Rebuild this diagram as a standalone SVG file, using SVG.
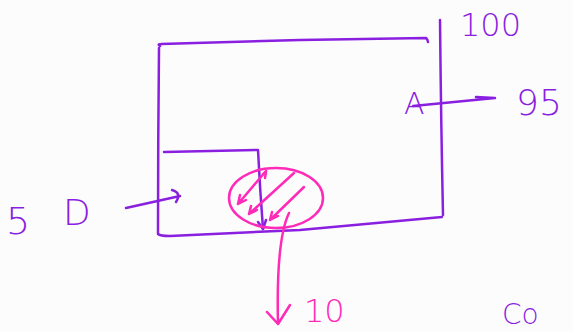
<svg xmlns="http://www.w3.org/2000/svg" width="573" height="332" viewBox="0 0 573 332">
<defs>
<style>
.p{fill:none;stroke:#8a1fe0;stroke-width:2.5;stroke-linecap:round;stroke-linejoin:round}
.m{fill:none;stroke:#ff2bb8;stroke-width:2.5;stroke-linecap:round;stroke-linejoin:round}
.tp{fill:#8a1fe0;font-family:"DejaVu Sans",sans-serif;font-weight:200}
.tm{fill:#ff2bb8;font-family:"DejaVu Sans",sans-serif;font-weight:200}
</style>
</defs>
<rect width="573" height="332" fill="#fcfcfd"/>
<g id="tank">
<path class="p" d="M159,48 Q158,140 158,234 Q160,236 170,236 L300,230 L442,217 M160,46 Q157,44 161,44 L300,40 L426,38 Q428,40 428,42"/>
<path class="p" d="M440,20 Q441,120 443,215"/>
</g>
<g id="inner">
<path class="p" d="M164,152 L258,150 Q260,190 263,229"/>
<path class="p" d="M258,222 L263,229 L266,220"/>
</g>
<g id="blob">
<ellipse class="m" cx="276" cy="198" rx="47" ry="30"/>
<path class="m" d="M266,171 L238,204 M238,204 L240,195 M238,204 L246,200"/>
<path class="m" d="M294,173 L249,214 M249,214 L251,206 M249,214 L257,210"/>
<path class="m" d="M304,187 L270,220 M270,220 L272,212 M270,220 L278,216"/>
<path class="m" d="M263,174 L266,172 L265,178"/>
</g>
<g id="labels">
<text class="tp" x="6" y="234" font-size="38">5</text>
<text class="tp" x="63" y="225" font-size="36">D</text>
<text class="tp" x="460" y="36" font-size="32">100</text>
<text class="tp" x="404" y="114" font-size="30">A</text>
<text class="tp" x="516" y="115" font-size="36">95</text>
<text class="tm" x="304" y="322" font-size="32">10</text>
<text class="tp" x="502" y="324" font-size="28">Co</text>
</g>
<g id="connectors">
<path class="p" d="M126,208 L180,196 M172,190 Q182,193 176,202"/>
<path class="p" d="M413,106 L495,98 M476,97 L495,98"/>
<path class="m" d="M289,213 Q276,240 278,324 M267,312 L278,324 L290,305"/>
</g>
</svg>
